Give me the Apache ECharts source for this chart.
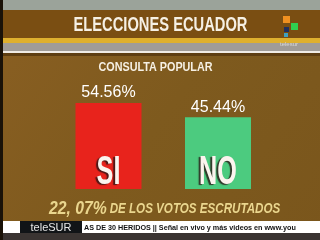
<!DOCTYPE html>
<html><head><meta charset="utf-8">
<script src="https://cdn.jsdelivr.net/npm/echarts@6/dist/echarts.min.js"></script>
<style>html,body{margin:0;padding:0;background:#80581c;}#c{width:320px;height:240px;}</style>
</head><body><div id="c"></div>
<script>
const categories = ['SI', 'NO'];
const values = [54.56, 45.44];
const barColors = ['#e8231c', '#4ccb7f'];
const titleText = 'ELECCIONES ECUADOR';
const subtitleText = 'CONSULTA POPULAR';
const footerPct = '22, 07%';
const footerText = 'DE LOS VOTOS ESCRUTADOS';
const tickerText = 'AS DE 30 HERIDOS || Señal en vivo y más videos en www.you';

const chart = echarts.init(document.getElementById('c'), null, {renderer: 'canvas'});
const sans = '"Liberation Sans", Arial, sans-serif';
chart.setOption({
  animation: false,
  backgroundColor: {type: 'linear', x: 0, y: 0, x2: 1, y2: 1, colorStops: [
    {offset: 0, color: '#8a5f22'}, {offset: 0.5, color: '#7e5a1e'}, {offset: 1, color: '#7a561c'}]},
  grid: {left: 53.75, right: 47.25, top: 94.4, bottom: 51, containLabel: false},
  xAxis: {type: 'category', data: categories, show: false},
  yAxis: {type: 'value', min: 0, max: 60, show: false},
  series: [
    {
      type: 'bar', barWidth: 66,
      data: values.map((v, i) => ({value: v, itemStyle: {color: barColors[i]}})),
      label: {show: true, position: 'top', distance: 2, color: '#ffffff',
        fontFamily: sans, fontSize: 16,
        formatter: p => p.value.toFixed(2) + '%'}
    },
    {
      type: 'custom', z: 5,
      data: values.map((v, i) => [i, v]),
      renderItem: function (params, api) {
        const p = api.coord([api.value(0), 0]);
        return {
          type: 'text', x: p[0], y: p[1] - 16, scaleX: 0.63,
          style: {
            text: categories[params.dataIndex], fill: '#fbf4ee',
            font: 'bold 40px ' + sans, textAlign: 'center', textVerticalAlign: 'middle',
            textShadowColor: 'rgba(40,20,20,0.8)', textShadowOffsetX: -2, textShadowOffsetY: 1, textShadowBlur: 1
          }
        };
      }
    }
  ],
  graphic: [
    {type: 'rect', shape: {x: 0, y: 0, width: 320, height: 10}, style: {fill: '#9ba39a'}, z: -1},
    {type: 'rect', shape: {x: 0, y: 10, width: 320, height: 28}, style: {fill: '#7a4e12'}, z: -1},
    {type: 'rect', shape: {x: 0, y: 38, width: 320, height: 5}, style: {fill: '#dfb02e'}, z: -1},
    {type: 'rect', shape: {x: 0, y: 43, width: 320, height: 8}, style: {fill: '#a09c98'}, z: -1},
    {type: 'rect', shape: {x: 0, y: 51, width: 320, height: 2}, style: {fill: '#f0ece6'}, z: -1},
    {type: 'rect', shape: {x: 0, y: 53, width: 320, height: 3}, style: {fill: '#5e3e12'}, z: -1},
    {type: 'rect', shape: {x: 0, y: 0, width: 3, height: 240}, style: {fill: '#1a1208'}, z: 5},
    {type: 'text', x: 160.5, y: 25.5, scaleX: 0.7,
      style: {text: titleText, fill: '#f6f0e4', font: 'bold 21px ' + sans, textAlign: 'center', textVerticalAlign: 'middle'}},
    {type: 'text', x: 155.5, y: 67.5, scaleX: 0.83,
      style: {text: subtitleText, fill: '#f6f0e4', font: 'bold 13px ' + sans, textAlign: 'center', textVerticalAlign: 'middle'}},
    // teleSUR logo squares
    {type: 'rect', shape: {x: 283, y: 16, width: 7, height: 7}, style: {fill: '#f09020'}},
    {type: 'rect', shape: {x: 291, y: 23, width: 7, height: 7}, style: {fill: '#30d050'}},
    {type: 'rect', shape: {x: 284, y: 27, width: 5, height: 5}, style: {fill: '#203060'}},
    {type: 'rect', shape: {x: 284, y: 33, width: 4, height: 4}, style: {fill: '#40a0c0'}},
    {type: 'text', x: 289, y: 44, style: {text: 'telesur', fill: '#d8d8d8', font: '6px sans-serif', textAlign: 'center', textVerticalAlign: 'middle'}},
    {type: 'text', x: 49, y: 209, scaleX: 0.83, style: {
      text: '{a|' + footerPct + '} {b|' + footerText + '}',
      textVerticalAlign: 'middle',
      rich: {
        a: {fill: '#ead68e', font: 'italic bold 19px ' + sans},
        b: {fill: '#ead68e', font: 'italic bold 14px ' + sans}
      }}},
    {type: 'rect', shape: {x: 0, y: 233, width: 320, height: 7}, style: {fill: '#3a3432'}},
    {type: 'rect', shape: {x: 0, y: 221, width: 320, height: 12}, style: {fill: '#ffffff'}},
    {type: 'rect', shape: {x: 20, y: 221, width: 62, height: 12}, style: {fill: '#111417'}},
    {type: 'text', x: 51, y: 227.5, style: {text: 'teleSUR', fill: '#e6e6e6', font: '11px ' + sans, textAlign: 'center', textVerticalAlign: 'middle'}},
    {type: 'text', x: 84, y: 227.5, scaleX: 0.9, style: {text: tickerText, fill: '#111111', font: 'bold 8px ' + sans, textVerticalAlign: 'middle'}}
  ]
});
</script></body></html>
